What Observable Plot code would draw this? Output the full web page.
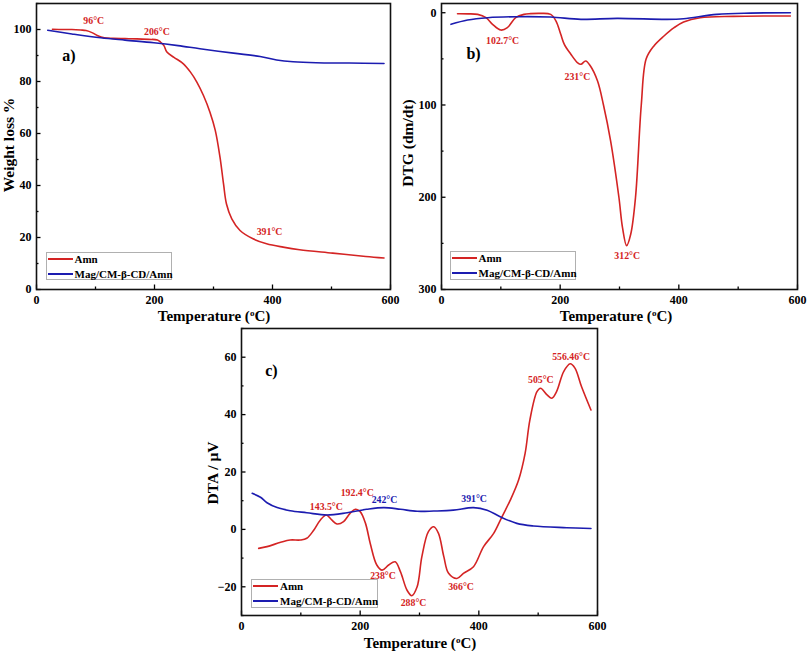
<!DOCTYPE html>
<html>
<head>
<meta charset="utf-8">
<script src="https://cdn.jsdelivr.net/npm/d3@7"></script>
<script src="https://cdn.jsdelivr.net/npm/@observablehq/plot@0.6"></script>
<style>
  body { margin: 0; background: #fff; }
  #wrap { position: relative; width: 807px; height: 651px; overflow: hidden;
          font-family: "Liberation Serif", "Times New Roman", serif; font-weight: bold; color: #000; }
  .panel { position: absolute; }
  .t { position: absolute; white-space: nowrap; line-height: 1; font-weight: bold; }
  .xt { font-size: 15px; transform: translate(-50%, -50%); }
  .yt { font-size: 15.5px; transform: translate(-50%, -50%) rotate(-90deg); }
  sup { font-size: 0.6em; vertical-align: 0.55em; line-height: 0; }
  .legend { position: absolute; border: 1px solid #b0b0b0; background: #fff; box-sizing: border-box; }
  .legend .ln { position: absolute; left: 1px; width: 25px; height: 2px; }
  .legend .lt { position: absolute; left: 28px; font-size: 11px; line-height: 1; transform: translateY(-50%); white-space: nowrap; }
</style>
</head>
<body>
<div id="wrap"></div>
<script>
// ---------- DATA ----------
const RED = "#d42424";
const BLUE = "#1c1cb0";
const seriesNames = ["Amn", "Mag/CM-β-CD/Amn"];

const xTickLabels = [0, 200, 400, 600];
const xMinorTicks = [100, 300, 500];

// a) TGA
const tgaAmnT = [27,45,60,75,84,95,103,115,130,150,170,190,205,210,216,221,233,249,261,272,283,294,303,311,317,322,331,345,367,390,418,446,502,558,589];
const tgaAmnW = [100.1,100,100,99.8,99.6,98.7,97.7,96.8,96.6,96.5,96.4,96.2,96,95.2,93.8,91.3,89.3,86.8,83.6,79.7,74.6,68.2,61.2,50.9,40.6,32.9,27.2,22.7,19.5,17.6,16.3,15.3,14.0,12.7,12.1];
const tgaMagT = [19,60,109,150,199,240,277,334,379,407,435,474,530,589];
const tgaMagW = [99.7,98.3,96.8,95.9,94.9,93.8,92.6,90.9,89.6,88.3,87.6,87.2,87.1,86.9];
const tgaYTicks = [0,20,40,60,80,100];
const tgaYMinor = [10,30,50,70,90,110];
const tgaAnnT = [97,204,395];
const tgaAnnV = [103.2,99,22.3];
const tgaAnnText = ["96°C","206°C","391°C"];

// b) DTG
const dtgAmnT = [27,45,61,75,86,100,111,125,139,150,167,184,193,201,207,218,229,235,243,251,263,273,285,299,305,312,319,327,336.7,345,358,375,392,408,436,492,548,588];
const dtgAmnV = [1.1,1.2,1.8,5.4,12.6,18.8,16.2,5.4,1.8,1,0.7,1.8,9,23.4,34.3,45,54,55.9,52.3,57.7,74,100,138.8,200,232.6,252.4,239.8,200,100,50,36,25.2,16.2,10.1,5.4,4,3.6,3.6];
const dtgMagT = [16,44,78,128,184,235,296,380,408,464,520,588];
const dtgMagV = [12.6,7.9,5.4,4.3,4.7,7.2,6.1,7.2,6.5,1.8,0.4,0];
const dtgYTicks = [0,100,200,300];
const dtgYMinor = [50,150,250];
const dtgAnnT = [103,229,313];
const dtgAnnV = [30,69.6,264];
const dtgAnnText = ["102.7°C","231°C","312°C"];

// c) DTA
const dtaAmnT = [29,43,66,82,99,110,122,133,143,152,161,172,183,192,200,209,217,228,237,248,259,268,279,287,296,304,315,324,332,341,349,363,374,391,408,425,439,453,467,478,486,498,504,515,523,531,543,554,562,573,589];
const dtaAmnV = [-6.6,-6,-4.5,-3.7,-3.7,-3.1,-0.2,3.3,5,3.3,1.9,2.7,5.6,7,6.2,2.1,-4.9,-12.4,-14.2,-12.4,-11.3,-14.8,-21.2,-23.1,-20,-9.5,-0.8,0.9,-1.4,-9.5,-15.3,-17.1,-15.3,-13,-6,-1.4,4.4,10.2,17.2,26.5,38.1,48,49.2,46.9,45.7,48,55,57.7,56.2,49.8,41.6];
const dtaMagT = [18,32,43,60,82,110,144,178,211,240,268,296,324,357,391,414,436,464,492,548,589];
const dtaMagV = [12.6,11.2,9.3,7.6,6.5,5.8,5,5.8,7,7.6,7,6.3,6.4,6.7,7.6,6.7,4.4,2.1,1.2,0.6,0.3];
const dtaYTicks = [-20,0,20,40,60];
const dtaYMinor = [-30,-10,10,30,50,70];
const dtaAnnRedT = [143,195,238.5,290,370,504.5,555.5];
const dtaAnnRedV = [7.9,12.8,-16.2,-25.6,-20,52,60.2];
const dtaAnnRedText = ["143.5°C","192.4°C","238°C","288°C","366°C","505°C","556.46°C"];
const dtaAnnBlueT = [241,392];
const dtaAnnBlueV = [10.2,10.5];
const dtaAnnBlueText = ["242°C","391°C"];

const panelLetters = ["a)","b)","c)"];
const letterT = [55,54,50.5];
const letterV = [90,45,55.3];

// ---------- HELPERS ----------
const zip = (t, v) => t.map((d, i) => ({t: d, v: v[i]}));
const ann = (t, v, s) => t.map((d, i) => ({t: d, v: v[i], s: s[i]}));

function panel(cfg) {
  const pw = cfg.width - cfg.ml - cfg.mr;
  const ph = cfg.height - cfg.mt - cfg.mb;
  const marks = [
    Plot.line(zip(cfg.amnT, cfg.amnV), {x: "t", y: "v", stroke: RED, strokeWidth: 1.6, curve: "catmull-rom"}),
    Plot.line(zip(cfg.magT, cfg.magV), {x: "t", y: "v", stroke: BLUE, strokeWidth: 1.6, curve: "catmull-rom"}),
    Plot.tickX(xTickLabels, {x: d => d, stroke: "#000", strokeWidth: 1.3, insetTop: ph - 4.5}),
    Plot.tickX(xMinorTicks, {x: d => d, stroke: "#000", strokeWidth: 1.3, insetTop: ph - 2.5}),
    Plot.tickY(cfg.yTicks, {y: d => d, stroke: "#000", strokeWidth: 1.3, insetRight: pw - 4.5}),
    Plot.tickY(cfg.yMinor, {y: d => d, stroke: "#000", strokeWidth: 1.3, insetRight: pw - 2.5}),
    Plot.axisX(xTickLabels, {tickSize: 0, tickPadding: cfg.xpad, label: null, fontSize: 12, fontWeight: "bold"}),
    Plot.axisY(cfg.yTicks, {tickSize: 0, tickPadding: 5, label: null, fontSize: 12, fontWeight: "bold"}),
    Plot.frame({stroke: "#111", strokeWidth: 1.6}),
    Plot.text(cfg.ann, {x: "t", y: "v", text: "s", fill: RED, fontSize: 9.8, fontWeight: "bold"}),
    Plot.text([cfg.letter], {x: "t", y: "v", text: "s", fill: "#000", fontSize: 16, fontWeight: "bold"})
  ];
  if (cfg.ann2) marks.push(Plot.text(cfg.ann2, {x: "t", y: "v", text: "s", fill: BLUE, fontSize: 9.8, fontWeight: "bold"}));
  const p = Plot.plot({
    width: cfg.width, height: cfg.height,
    marginLeft: cfg.ml, marginRight: cfg.mr, marginTop: cfg.mt, marginBottom: cfg.mb,
    x: {domain: [0, 600]},
    y: {domain: cfg.yDomain, reverse: !!cfg.reverse},
    style: {fontFamily: "'Liberation Serif', 'Times New Roman', serif", fontWeight: "bold", fontSize: "12px", color: "#000", background: "transparent", overflow: "visible"},
    marks
  });
  p.classList.add("panel");
  p.style.left = cfg.left + "px";
  p.style.top = cfg.top + "px";
  return p;
}

function legend(left, top, w, h) {
  const d = document.createElement("div");
  d.className = "legend";
  Object.assign(d.style, {left: left + "px", top: top + "px", width: w + "px", height: h + "px"});
  const rows = [[RED, seriesNames[0], 6.3], [BLUE, seriesNames[1], 21.3]];
  for (const [c, name, y] of rows) {
    const l = document.createElement("div");
    l.className = "ln"; l.style.background = c; l.style.top = (y - 1) + "px";
    const t = document.createElement("div");
    t.className = "lt"; t.textContent = name; t.style.top = y + "px";
    d.append(l, t);
  }
  return d;
}

function label(html, x, y, cls) {
  const d = document.createElement("div");
  d.className = "t " + cls;
  d.innerHTML = html;
  d.style.left = x + "px"; d.style.top = y + "px";
  return d;
}

// ---------- BUILD ----------
const wrap = document.getElementById("wrap");

wrap.append(panel({
  left: 0, top: 0, width: 400, height: 320, ml: 36, mr: 10, mt: 3, mb: 31, xpad: 6,
  yDomain: [0, 110], yTicks: tgaYTicks, yMinor: tgaYMinor,
  amnT: tgaAmnT, amnV: tgaAmnW, magT: tgaMagT, magV: tgaMagW,
  ann: ann(tgaAnnT, tgaAnnV, tgaAnnText),
  letter: {t: letterT[0], v: letterV[0], s: panelLetters[0]}
}));

wrap.append(panel({
  left: 400, top: 0, width: 407, height: 320, ml: 41, mr: 10, mt: 3, mb: 31, xpad: 6,
  yDomain: [-10, 300], reverse: true, yTicks: dtgYTicks, yMinor: dtgYMinor,
  amnT: dtgAmnT, amnV: dtgAmnV, magT: dtgMagT, magV: dtgMagV,
  ann: ann(dtgAnnT, dtgAnnV, dtgAnnText),
  letter: {t: letterT[1], v: letterV[1], s: panelLetters[1]}
}));

wrap.append(panel({
  left: 200, top: 310, width: 420, height: 341, ml: 41, mr: 23, mt: 18, mb: 36, xpad: 6,
  yDomain: [-30, 70], yTicks: dtaYTicks, yMinor: dtaYMinor,
  amnT: dtaAmnT, amnV: dtaAmnV, magT: dtaMagT, magV: dtaMagV,
  ann: ann(dtaAnnRedT, dtaAnnRedV, dtaAnnRedText),
  ann2: ann(dtaAnnBlueT, dtaAnnBlueV, dtaAnnBlueText),
  letter: {t: letterT[2], v: letterV[2], s: panelLetters[2]}
}));

wrap.append(legend(45.5, 251.5, 126.5, 28.5));
wrap.append(legend(449.5, 250.5, 126, 29));
wrap.append(legend(251, 578.5, 127, 29.5));

wrap.append(label("Temperature (<sup>o</sup>C)", 214, 315.5, "xt"));
wrap.append(label("Temperature (<sup>o</sup>C)", 616, 315.5, "xt"));
wrap.append(label("Temperature (<sup>o</sup>C)", 420, 642.5, "xt"));
wrap.append(label("Weight loss %", 8.5, 145, "yt"));
wrap.append(label("DTG (dm/dt)", 408, 143, "yt"));
wrap.append(label("DTA / μV", 213, 473, "yt"));
</script>
</body>
</html>
